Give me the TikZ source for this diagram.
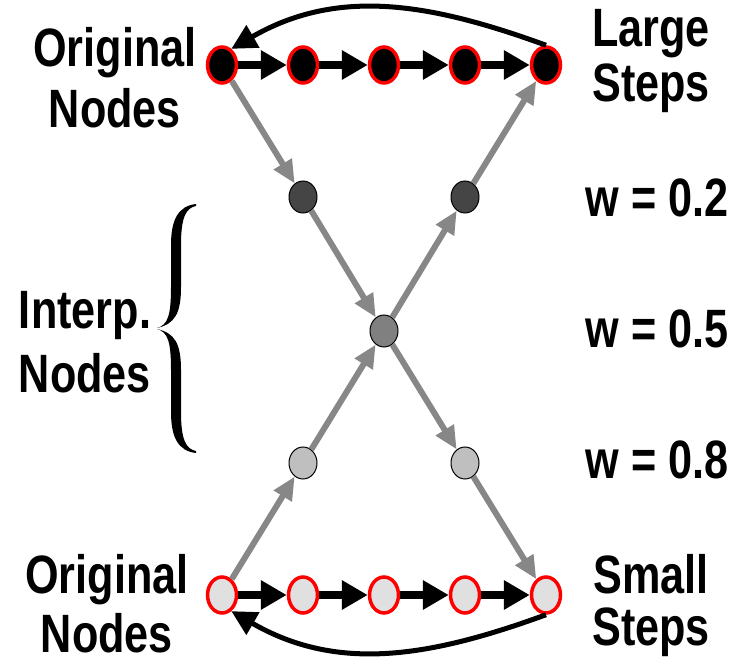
\documentclass[tikz,border=0pt]{standalone}
\usepackage{fontspec}
\newfontfamily\lblfont{Liberation Sans Bold}[FakeStretch=0.8]
\usetikzlibrary{arrows.meta,shapes.geometric}
\definecolor{arrowgray}{HTML}{878787}
\definecolor{lightfill}{HTML}{E0E0E0}
\tikzset{
    orig/.style={ellipse, draw=red, line width=3.5pt, minimum width=29pt, minimum height=36pt, inner sep=0pt},
    interp/.style={ellipse, draw=black, line width=1pt, minimum width=28pt, minimum height=32pt, inner sep=0pt},
    lbl/.style={font=\lblfont\fontsize{54}{58}\selectfont, align=center, anchor=base},
    stepline/.style={line width=8.5pt, -{Triangle[length=26pt,width=28pt]}},
    backline/.style={line width=5pt, -{Triangle[length=25pt,width=25pt]}},
    wline/.style={arrowgray, line width=6pt, -{Triangle[length=23pt,width=20pt]}}
}
\begin{document}
\begin{tikzpicture}[x=1pt, y=1pt]
    \useasboundingbox (0,0) rectangle (736,665);
    % original nodes
    \node [orig, fill=black] (t1) at (222,600) {};
    \node [orig, fill=black] (t2) at (303,600) {};
    \node [orig, fill=black] (t3) at (384,600) {};
    \node [orig, fill=black] (t4) at (465,600) {};
    \node [orig, fill=black] (t5) at (546,600) {};
    \node [orig, fill=lightfill] (b1) at (222,70) {};
    \node [orig, fill=lightfill] (b2) at (303,70) {};
    \node [orig, fill=lightfill] (b3) at (384,70) {};
    \node [orig, fill=lightfill] (b4) at (465,70) {};
    \node [orig, fill=lightfill] (b5) at (546,70) {};
    % interpolated nodes
    \node [interp, fill=black!73] (p1) at (303,468) {};
    \node [interp, fill=black!73] (p2) at (465,468) {};
    \node [interp, fill=black!50] (mid) at (384,334) {};
    \node [interp, fill=black!25] (q1) at (303,202) {};
    \node [interp, fill=black!25] (q2) at (465,202) {};
    % steps
    \draw [stepline] (t1) -- (t2);
    \draw [stepline] (t2) -- (t3);
    \draw [stepline] (t3) -- (t4);
    \draw [stepline] (t4) -- (t5);
    \draw [stepline] (b1) -- (b2);
    \draw [stepline] (b2) -- (b3);
    \draw [stepline] (b3) -- (b4);
    \draw [stepline] (b4) -- (b5);
    \draw [backline] (t5.north) to [out=160, in=30] (t1.60);
    \draw [backline] (b5.south) to [out=-160, in=-30] (b1.-60);
    % the two weight paths
    \draw [wline] (t1) -- (p1);
    \draw [wline] (p1) -- (mid);
    \draw [wline] (mid) -- (q2);
    \draw [wline] (q2) -- (b5);
    \draw [wline] (b1) -- (q1);
    \draw [wline] (q1) -- (mid);
    \draw [wline] (mid) -- (p2);
    \draw [wline] (p2) -- (t5);
    % brace, upper and lower half
    \fill (196,461) .. controls (178,459) and (171,445) .. (171,420) -- (171,378)
        .. controls (171,350) and (168,340) .. (157,337)
        .. controls (175,341) and (181,352) .. (181,378) -- (181,420)
        .. controls (181,448) and (186,457) .. (196,459) -- cycle;
    \fill (196,212) .. controls (178,214) and (171,228) .. (171,253) -- (171,295)
        .. controls (171,323) and (168,333) .. (157,336)
        .. controls (175,332) and (181,321) .. (181,295) -- (181,253)
        .. controls (181,225) and (186,216) .. (196,214) -- cycle;
    % labels
    \node [lbl] (origtop) at (115,537) {Original\\[3pt]Nodes};
    \node [lbl] (large) at (651,563) {Large\\[-3pt]Steps};
    \node [lbl, anchor=base west] (w2) at (582,448) {w = 0.2};
    \node [lbl, anchor=base west] (w5) at (582,318) {w = 0.5};
    \node [lbl, anchor=base west] (w8) at (582,187) {w = 0.8};
    \node [lbl] (interplbl) at (85,273) {Interp.\\[6pt]Nodes};
    \node [lbl] (origbot) at (107,13) {Original\\[1pt]Nodes};
    \node [lbl] (small) at (651,20) {Small\\[-6pt]Steps};
\end{tikzpicture}
\end{document}
